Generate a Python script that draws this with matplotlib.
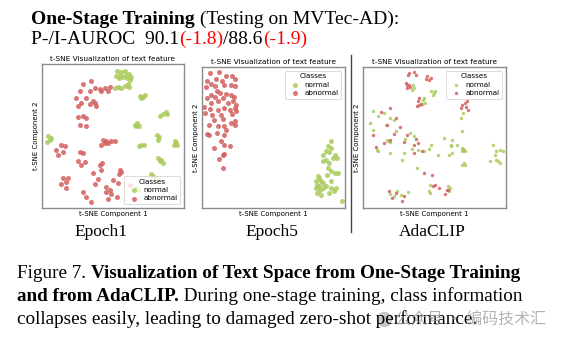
import numpy as np
import matplotlib.pyplot as plt

W, H = 570, 344
RED = '#d35f5f'
GREEN = '#a9cc5c'

# epoch 1 embedding (arbitrary t-SNE units, y grows downward)
ep1_normal_x = [232, 245, 256, 268, 275, 262, 250, 238, 230, 242, 258, 270, 225, 235, 245, 255, 265, 268,
                300, 310, 315, 305, 360, 370, 378, 383, 285, 292, 298, 288, 25, 30, 22, 35,
                352, 358, 355, 405, 410, 412, 403, 298, 305, 312, 355, 362, 370, 365, 335, 340, 345, 288, 295]
ep1_normal_y = [52, 55, 52, 60, 70, 72, 68, 72, 65, 62, 64, 78, 100, 98, 102, 95, 90, 98,
                125, 128, 122, 132, 185, 180, 172, 178, 210, 205, 213, 215, 245, 255, 262, 250,
                240, 248, 255, 258, 265, 272, 270, 275, 270, 272, 310, 318, 323, 315, 357, 362, 370, 400, 405]
ep1_abn_x = [155, 130, 165, 180, 195, 210, 205, 185, 150, 120, 110, 125, 140, 150, 165, 170, 160, 115,
             130, 115, 120, 140, 138, 190, 200, 205, 215, 225, 195, 185, 65, 75, 50, 70, 55, 120, 130,
             115, 125, 135, 180, 188, 185, 160, 175, 70, 85, 80, 65, 80, 165, 130, 140, 155, 200, 210,
             198, 215, 240, 245, 238, 220, 235, 232, 205, 270]
ep1_abn_y = [82, 90, 100, 105, 102, 98, 110, 110, 110, 110, 130, 145, 130, 150, 145, 155, 140, 155,
             185, 188, 210, 215, 190, 255, 258, 265, 258, 258, 265, 270, 270, 275, 285, 292, 300, 293, 295,
             318, 330, 320, 330, 325, 345, 355, 372, 368, 370, 380, 388, 398, 388, 410, 425, 440, 395, 405,
             410, 415, 345, 350, 358, 375, 385, 425, 432, 390]

# epoch 5 embedding
ep5_normal_x = [410, 400, 410, 395, 385, 405, 420, 428, 415, 385, 395, 405, 400, 410, 420, 430, 375, 380,
                370, 385, 375, 365, 378, 370, 385, 395, 410, 408, 418, 405, 425, 380, 440, 372, 365, 398]
ep5_normal_y = [258, 275, 280, 290, 300, 292, 300, 310, 310, 320, 315, 325, 340, 350, 355, 355, 370, 380,
                390, 385, 395, 400, 405, 415, 400, 395, 380, 400, 410, 415, 400, 420, 438, 365, 380, 360]
ep5_abn_x = [58, 85, 75, 105, 122, 130, 50, 62, 48, 72, 92, 100, 118, 130, 78, 60, 88, 105, 120, 128,
             50, 72, 95, 60, 80, 110, 125, 135, 42, 58, 80, 100, 115, 130, 45, 65, 90, 122, 135, 70,
             95, 120, 130, 55, 80, 100, 130, 50, 78, 100, 55, 90, 70, 100, 115, 95, 100, 85, 97, 105]
ep5_abn_y = [55, 52, 72, 65, 65, 72, 80, 88, 98, 95, 80, 92, 90, 95, 108, 120, 115, 118, 122, 128,
             130, 128, 130, 145, 140, 145, 140, 150, 158, 162, 165, 160, 165, 160, 175, 180, 180, 178, 170, 195,
             192, 205, 200, 210, 215, 215, 212, 238, 235, 240, 240, 260, 280, 270, 275, 300, 298, 312, 340, 225]

# AdaCLIP embedding
ada_normal_x = [185, 190, 182, 240, 248, 245, 250, 215, 220, 212, 218, 332, 325, 330,
                68, 60, 70, 85, 100, 118, 130, 108, 135, 110, 118, 112, 85, 80, 118, 160, 155, 200,
                218, 240, 232, 258, 278, 300, 315, 296, 300, 298, 330, 335, 328, 335, 330, 338,
                420, 430, 440, 425, 435, 440, 430, 412, 448, 178, 162, 182, 188, 235, 236, 292,
                288, 295, 290, 140, 150, 172, 232, 198, 120, 132, 333, 338]
ada_normal_y = [92, 100, 105, 110, 115, 120, 108, 135, 145, 148, 130, 175, 190, 230,
                168, 205, 225, 185, 175, 190, 195, 210, 230, 255, 262, 258, 290, 285, 295, 295, 315, 285,
                290, 272, 282, 300, 250, 255, 272, 275, 295, 270, 280, 285, 290, 325, 330, 330,
                270, 290, 285, 300, 320, 325, 315, 318, 288, 235, 252, 282, 245, 390, 415, 300,
                395, 400, 408, 408, 420, 412, 408, 340, 418, 425, 282, 288]
ada_abn_x = [175, 190, 195, 172, 228, 238, 232, 225, 165, 170, 178, 168, 175, 200, 205, 198, 210, 205,
             330, 340, 325, 348, 338, 345, 92, 118, 135, 148, 110, 70, 100, 120, 78, 130, 168, 160,
             195, 200, 190, 188, 212, 218, 242, 245, 262, 250, 116, 125, 135, 155, 160, 288, 280, 285]
ada_abn_y = [55, 52, 60, 62, 65, 70, 75, 72, 85, 92, 98, 100, 90, 140, 150, 155, 148, 130,
             150, 158, 160, 165, 145, 140, 172, 160, 190, 218, 210, 240, 265, 255, 278, 238, 240, 262,
             252, 265, 272, 295, 290, 355, 360, 395, 400, 392, 410, 430, 415, 440, 425, 405, 418, 405]

panel_names = ['Epoch1', 'Epoch5', 'AdaCLIP']

panels = [
    (ep1_normal_x, ep1_normal_y, ep1_abn_x, ep1_abn_y, (7, 433), (458, 30), 'lower right', 13),
    (ep5_normal_x, ep5_normal_y, ep5_abn_x, ep5_abn_y, (35, 450), (460, 37), 'upper right', 13),
    (ada_normal_x, ada_normal_y, ada_abn_x, ada_abn_y, (40, 458), (460, 37), 'upper right', 6),
]
boxes = [(42, 64, 184, 208), (202, 67, 345, 208), (363, 67, 506, 208)]


def fx(x):
    return x / W


def fy(y):
    return 1 - y / H


fig = plt.figure(figsize=(W / 100, H / 100), dpi=100)

for (nx, ny, ax_, ay_, xl, yl, loc, s), (l, t, r, b) in zip(panels, boxes):
    ax = fig.add_axes([fx(l), fy(b), (r - l) / W, (b - t) / H])
    ax.scatter(nx, ny, s=s, color=GREEN, alpha=0.85, linewidths=0, label='normal')
    ax.scatter(ax_, ay_, s=s, color=RED, alpha=0.85, linewidths=0, label='abnormal')
    ax.set_xlim(*xl)
    ax.set_ylim(*yl)
    ax.set_xticks([])
    ax.set_yticks([])
    for sp in ax.spines.values():
        sp.set_color('#8a8a8a')
        sp.set_linewidth(1.0)
    ax.set_title('t-SNE Visualization of text feature', fontsize=5.3, pad=2)
    ax.set_xlabel('t-SNE Component 1', fontsize=5.0, labelpad=2)
    ax.set_ylabel('t-SNE Component 2', fontsize=5.0, labelpad=2)
    leg = ax.legend(title='Classes', loc=loc, fontsize=5.2, title_fontsize=5.2,
                    markerscale=1.0, handletextpad=0.3, borderpad=0.4, labelspacing=0.3,
                    framealpha=0.8, edgecolor='#cccccc')
    leg.get_frame().set_linewidth(0.6)

# separator between one-stage panels and AdaCLIP
fig.add_artist(plt.Line2D([fx(351), fx(351)], [fy(55), fy(232)], color='#444444', lw=1.0))

serif = 'Liberation Serif'
for label, cx in zip(panel_names, [101, 272, 432]):
    fig.text(fx(cx), fy(236), label, family=serif, fontsize=12.5, ha='center', va='baseline')

fig.canvas.draw()
renderer = fig.canvas.get_renderer()


def pieces(x, y, parts, size):
    for txt, weight, color in parts:
        t = fig.text(fx(x), fy(y), txt, family=serif, fontsize=size, weight=weight,
                     color=color, ha='left', va='baseline')
        x += t.get_window_extent(renderer).width


pieces(31, 24, [('One-Stage Training', 'bold', 'black'), (' (Testing on MVTec-AD):', 'normal', 'black')], 14)
pieces(31, 44, [('P-/I-AUROC  90.1', 'normal', 'black'), ('(-1.8)', 'normal', 'red'),
                ('/88.6', 'normal', 'black'), ('(-1.9)', 'normal', 'red')], 14)

cap = 13.8
pieces(17, 278, [('Figure 7. ', 'normal', 'black'),
                 ('Visualization of Text Space from One-Stage Training', 'bold', 'black')], cap)
pieces(17, 301, [('and from AdaCLIP.', 'bold', 'black'),
                 (' During one-stage training, class information', 'normal', 'black')], cap)
pieces(17, 324, [('collapses easily, leading to damaged zero-shot performance.', 'normal', 'black')], cap)

# watermark
fig.add_artist(plt.Line2D([fx(384)], [fy(319)], marker='o', markersize=10, color='#bdbdbd',
                          alpha=0.8, linestyle='none'))
fig.text(fx(395), fy(324), '公众号 · 编码技术汇', family=['Noto Sans CJK SC', 'DejaVu Sans'],
         fontsize=11.5, color='#9a9a9a', alpha=0.75, ha='left', va='baseline')

fig.savefig('out.png', dpi=100)
